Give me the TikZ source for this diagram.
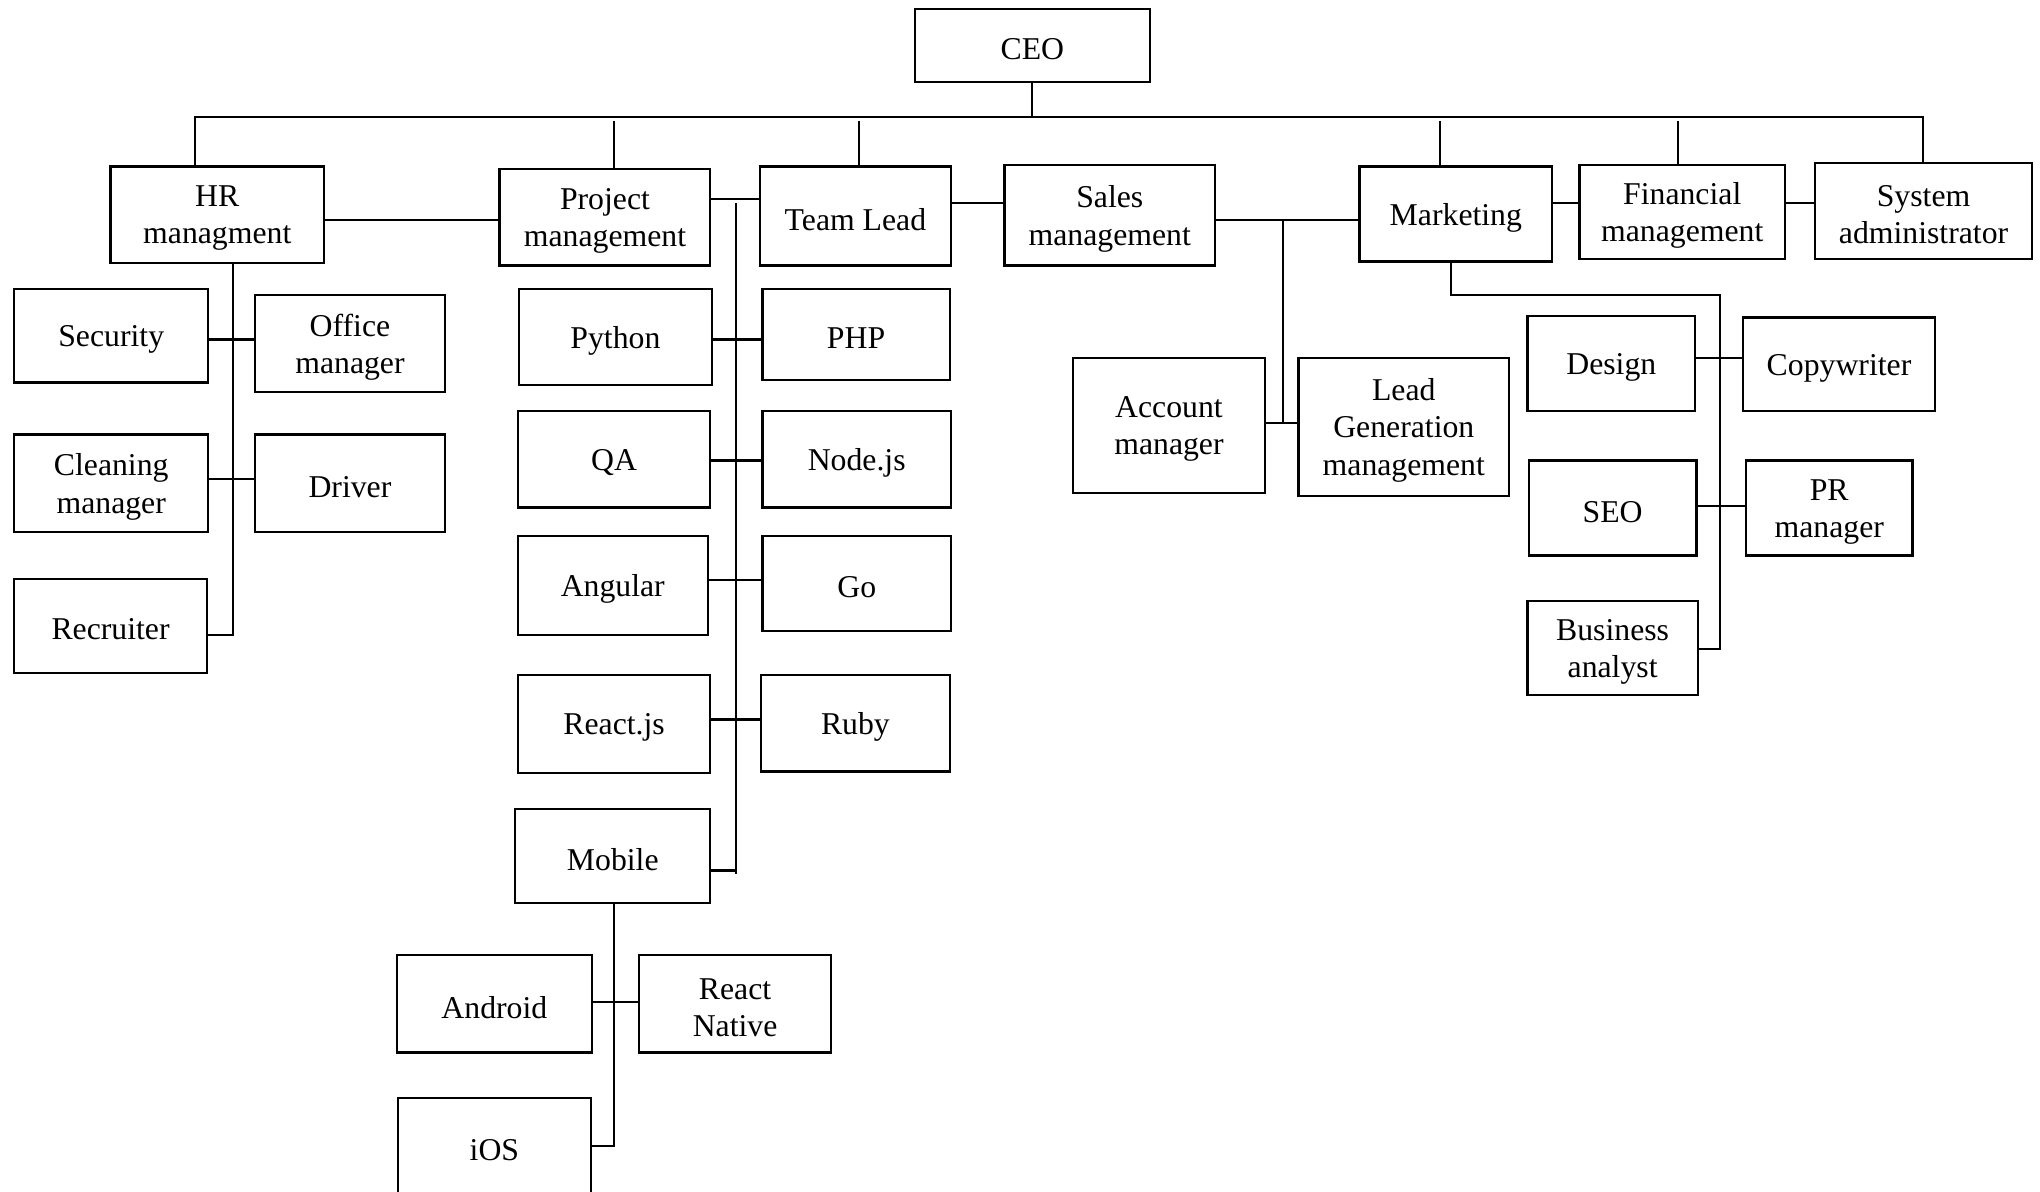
\documentclass[tikz,border=0pt]{standalone}
\usepackage{fontspec}
\setmainfont{Liberation Serif}
\tikzset{
  orgbox/.style={draw, line width=0.85pt, inner sep=0pt, outer sep=0pt},
  orgtext/.style={inner sep=0pt, align=center, font=\fontsize{12.2}{14.3}\selectfont},
  conn/.style={line width=0.85pt}
}
\newcommand\obox[6]{\node[orgbox, minimum width={(#4-#2)*0.5pt}, minimum height={(#5-#3)*0.5pt},
  label={[orgtext, yshift=-1.4pt]center:{#6}}] (#1) at ({(#2+#4)/2},{(#3+#5)/2}) {};}
\begin{document}
\begin{tikzpicture}[x=0.5pt,y=-0.5pt]
\useasboundingbox (0,0) rectangle (1568,916);
\clip (0,0) rectangle (1568,916);
% boxes
\obox{ceo}{703}{7}{884}{63}{CEO}
\obox{hr}{85}{128}{249}{202}{HR\\managment}
\obox{pm}{384}{130}{546}{204}{Project\\management}
\obox{tl}{584}{128}{731}{204}{Team Lead}
\obox{sales}{772}{127}{934}{204}{Sales\\management}
\obox{mk}{1045}{128}{1193}{201}{Marketing}
\obox{fin}{1214}{127}{1372}{199}{Financial\\management}
\obox{sa}{1395}{125}{1562}{199}{System\\administrator}
\obox{sec}{11}{222}{160}{294}{Security}
\obox{off}{196}{227}{342}{301}{Office\\manager}
\obox{cln}{11}{334}{160}{409}{Cleaning\\manager}
\obox{drv}{196}{334}{342}{409}{Driver}
\obox{rec}{11}{445}{159}{517}{Recruiter}
\obox{py}{399}{222}{547}{296}{Python}
\obox{php}{586}{222}{730}{292}{PHP}
\obox{qa}{398}{316}{546}{390}{QA}
\obox{nodejs}{586}{316}{731}{390}{Node.js}
\obox{ang}{398}{412}{544}{488}{Angular}
\obox{golang}{586}{412}{731}{485}{Go}
\obox{rjs}{398}{519}{546}{594}{React.js}
\obox{ruby}{585}{519}{730}{593}{Ruby}
\obox{mob}{396}{622}{546}{694}{Mobile}
\obox{andr}{305}{734}{455}{809}{Android}
\obox{rn}{491}{734}{639}{809}{React\\Native}
\node[orgbox, minimum width={(454-306)*0.5pt}, minimum height={(930-844)*0.5pt}] (ios) at (380,887) {};
\node[orgtext] (iostext) at (380,884) {iOS};
\obox{am}{825}{275}{972}{379}{Account\\manager}
\obox{lg}{998}{275}{1160}{381}{Lead\\Generation\\management}
\obox{des}{1174}{243}{1303}{316}{Design}
\obox{copy}{1340}{244}{1487}{316}{Copywriter}
\obox{seo}{1175}{354}{1304}{427}{SEO}
\obox{pr}{1342}{354}{1470}{427}{PR\\manager}
\obox{ba}{1174}{462}{1305}{534}{Business\\analyst}
% top bus
\coordinate (busL) at (150,90);
\coordinate (busR) at (1478,90);
\draw[conn] (ceo.south) -- (ceo.south |- busL);
\draw[conn] (busL |- hr.north) -- (busL) -- (busR) -- (busR |- sa.north);
\coordinate (dPM) at (472,93); \draw[conn] (dPM) -- (dPM |- pm.north);
\coordinate (dTL) at (660,93); \draw[conn] (dTL) -- (dTL |- tl.north);
\coordinate (dMK) at (1107,93); \draw[conn] (dMK) -- (dMK |- mk.north);
\coordinate (dFI) at (1290,93); \draw[conn] (dFI) -- (dFI |- fin.north);
% second row links
\coordinate (r1) at (0,169);
\coordinate (r2) at (0,153);
\coordinate (r3) at (0,156);
\draw[conn] (hr.east |- r1) -- (pm.west |- r1);
\draw[conn] (pm.east |- r2) -- (tl.west |- r2);
\draw[conn] (tl.east |- r3) -- (sales.west |- r3);
\draw[conn] (sales.east |- r1) -- (mk.west |- r1);
\draw[conn] (mk.east |- r3) -- (fin.west |- r3);
\draw[conn] (fin.east |- r3) -- (sa.west |- r3);
% HR branch
\coordinate (hB) at (179,488);
\draw[conn] (hB |- hr.south) -- (hB) -- (hB -| rec.east);
\coordinate (h1) at (0,261);
\coordinate (h2) at (0,368);
\draw[conn] (sec.east |- h1) -- (off.west |- h1);
\draw[conn] (cln.east |- h2) -- (drv.west |- h2);
% Team Lead branch
\coordinate (tT) at (566,156);
\coordinate (tB) at (566,672);
\draw[conn] (tT) -- (tB);
\coordinate (t1) at (0,261);
\coordinate (t2) at (0,354);
\coordinate (t3) at (0,446);
\coordinate (t4) at (0,553);
\coordinate (t5) at (0,669);
\draw[conn] (py.east |- t1) -- (php.west |- t1);
\draw[conn] (qa.east |- t2) -- (nodejs.west |- t2);
\draw[conn] (ang.east |- t3) -- (golang.west |- t3);
\draw[conn] (rjs.east |- t4) -- (ruby.west |- t4);
\draw[conn] (mob.east |- t5) -- (tB |- t5);
% Mobile branch
\coordinate (mB) at (472,881);
\draw[conn] (mob.south -| mB) -- (mB) -- (mB -| ios.east);
\coordinate (m1) at (0,770);
\draw[conn] (andr.east |- m1) -- (rn.west |- m1);
% Sales branch
\coordinate (sB) at (986,325);
\draw[conn] (sB |- r1) -- (sB);
\draw[conn] (am.east |- sB) -- (lg.west |- sB);
% Marketing branch
\coordinate (kA) at (1115,227);
\coordinate (kB) at (1322,499);
\draw[conn] (kA |- mk.south) -- (kA) -- (kA -| kB) -- (kB) -- (kB -| ba.east);
\coordinate (k1) at (0,275);
\coordinate (k2) at (0,389);
\draw[conn] (des.east |- k1) -- (copy.west |- k1);
\draw[conn] (seo.east |- k2) -- (pr.west |- k2);
\end{tikzpicture}
\end{document}
